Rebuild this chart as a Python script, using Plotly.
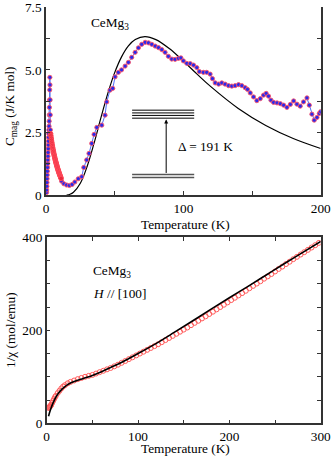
import plotly.graph_objects as go

# ---------------- top panel data: C_mag vs T ----------------
spike_T = [0.4,0.5,0.6,0.7,0.8,0.9,1.0,1.1,1.2,1.3,1.4,1.5,1.6,1.7,1.8,1.9,2.0,2.1,2.2,2.3,2.4,2.5,2.6,2.7,2.8,2.9,3.0,3.1,3.2]
spike_C = [0.1,0.2,0.35,0.5,0.65,0.8,0.95,1.1,1.25,1.4,1.55,1.7,1.85,2.0,2.15,2.3,2.45,2.6,2.75,2.95,3.2,3.5,3.8,4.2,4.7,4.4,3.8,3.2,2.6]

band_T = [3.4,3.6,3.8,4.0,4.2,4.4,4.6,4.8,5.0,5.2,5.4,5.6,5.8,6.0,6.2,6.4,6.6,6.8,7.0,7.2,7.4,7.6,7.8,8.0,
          8.2,8.4,8.6,8.8,9.0,9.2,9.4,9.6,9.8,10.0,10.2,10.4,10.6,10.8,11.0]
band_C = [2.45,2.36,2.27,2.19,2.11,2.04,1.97,1.91,1.85,1.79,1.74,1.68,1.63,1.58,1.53,1.48,1.44,1.39,1.35,1.31,1.27,1.23,1.19,1.15,
          1.11,1.07,1.04,1.0,0.97,0.94,0.9,0.87,0.84,0.81,0.78,0.75,0.72,0.69,0.66]

main_T = [11.4,13,15,17,19,21,23.5,26,27.5,29.6,31.3,33.3,35,37,40.6,43,44.2,46.6,48.6,50.3,52.7,55,57.6,60,62.4,64.9,67.3,
          69.7,72.2,74.6,77,79.5,81.9,84.3,86.7,89.1,91.6,94,96.4,98.2,100,102.5,105,107.4,109.8,111.7,114.6,117,119.5,
          121.2,123.2,125.7,128,130.4,132.9,135.3,137.7,140.2,142.6,145,146.7,148.7,151.1,153.5,156,158.4,160.3,162,163.8,
          165.7,168.2,170.6,173,175.4,177.9,180.3,182.7,185.1,187.5,190,191.7,193.6,195.3,197.3,199,200]
main_C = [0.55,0.45,0.4,0.38,0.42,0.52,0.65,0.73,1.1,1.4,1.66,2.06,2.42,2.7,2.79,3.19,3.72,4.19,4.26,4.72,4.9,5.0,5.15,5.3,5.5,5.7,5.88,
          6.02,6.1,6.08,6.02,5.95,5.89,5.81,5.7,5.54,5.43,5.42,5.46,5.48,5.36,5.26,5.25,5.19,5.09,4.93,4.9,4.9,4.83,
          4.65,4.48,4.43,4.48,4.43,4.37,4.35,4.37,4.41,4.37,4.29,4.22,4.08,3.92,3.77,3.85,3.99,4.06,3.95,3.79,
          3.7,3.68,3.65,3.59,3.5,3.62,3.76,3.63,3.55,3.72,3.88,3.59,3.23,2.99,3.1,3.26,3.33]

fit_T = [15,17.5,20,25,30,35,40,45,50,55,60,65,72,80,90,100,110,120,140,160,180,200]
fit_C = [0.0,0.03,0.11,0.47,1.15,2.07,3.09,4.06,4.89,5.52,5.96,6.21,6.33,6.21,5.84,5.35,4.83,4.33,3.46,2.78,2.26,1.86]

# ---------------- bottom panel data: 1/chi vs T ----------------
chi_T = [2.0,2.5,3,3.5,4,4.5,5,6,7,8,9,10,12,14,16,18,20,23,26,30,34,38,42,46,50,54,58,62,66,70,74,78,82,86,90,94,98,
         102,106,110,114,118,122,126,130,134,138,142,146,150,154,158,162,166,170,174,178,182,186,190,194,198,202,206,
         210,214,218,222,226,230,234,238,242,246,250,254,258,262,266,270,274,278,282,286,290,294,298]
chi_inv = [33,34,35,36,37,38.5,40,44,48,52,56,59,65,70,75,79,82,86,89,92,95,97.5,100,102,104,107,110,113,116,119,122.5,126,
           130,134,138,142,146,150,154,158,162,166,170,174.5,179,183.5,188,192.5,197,201.5,206,211,216,220.5,225.5,230,
           235,240,245,250,255,260,265,270,275,280,285,290.5,295.5,300.5,305.5,311,316,321,326.5,332,337,342.5,347.5,353,
           358,363,368,373,378,383,388]

cef_T = [2,3,5,7,10,13,16,20,25,30,40,50,60,70,80,90,100,120,140,160,180,200,220,240,260,280,300]
cef_inv = [15,22,34,44,56,65,72,79,85.5,90,96.5,103,111,120,129,139.5,150,172,196,220.5,245.5,270,294,318.5,343,367,391]

# axis tick labels
top_xticks = [0, 100, 200]
top_yticks = [0, 2.5, 5.0, 7.5]
top_ytext = ["0", "2.5", "5.0", "7.5"]
bot_xticks = [0, 100, 200, 300]
bot_yticks = [0, 200, 400]

# energy-level inset
ground_levels = [0.82, 0.70]
excited_levels = [3.39, 3.28, 3.18, 3.07]

FONT = "Liberation Serif, Times New Roman, serif"
FS = 13.3
W, H = 332, 465

fig = go.Figure()

fig.add_trace(go.Scatter(x=fit_T, y=fit_C, mode="lines", line=dict(color="black", width=1.2, shape="spline"),
                         xaxis="x", yaxis="y", showlegend=False, hoverinfo="skip"))
fig.add_trace(go.Scatter(x=spike_T + main_T, y=spike_C + main_C, mode="lines+markers",
                         line=dict(color="#4f6ef7", width=1),
                         marker=dict(size=4.2, color="#2b2bea", line=dict(color="#ff5566", width=0.9)),
                         xaxis="x", yaxis="y", showlegend=False, hoverinfo="skip"))
fig.add_trace(go.Scatter(x=band_T, y=band_C, mode="markers",
                         marker=dict(size=4.5, color="#e8283c", line=dict(color="#ff4a5a", width=1)),
                         xaxis="x", yaxis="y", showlegend=False, hoverinfo="skip"))

fig.add_trace(go.Scatter(x=chi_T, y=chi_inv, mode="markers",
                         marker=dict(size=5, symbol="circle-open", color="#ff5a5a", line=dict(width=1)),
                         xaxis="x2", yaxis="y2", showlegend=False, hoverinfo="skip"))
fig.add_trace(go.Scatter(x=cef_T, y=cef_inv, mode="lines", line=dict(color="black", width=1.6, shape="spline"),
                         xaxis="x2", yaxis="y2", showlegend=False, hoverinfo="skip"))

axcol = "#333"
common = dict(showgrid=False, zeroline=False, showline=True, linecolor=axcol, linewidth=1.5,
              ticks="inside", ticklen=4, tickwidth=1, tickcolor=axcol, tickangle=0,
              tickfont=dict(family=FONT, size=FS, color="black"), automargin=False)

xd_top = [46 / W, 320.7 / W]
xd_bot = [46.7 / W, 320.7 / W]

fig.update_layout(
    width=W, height=H, margin=dict(l=0, r=0, t=0, b=0),
    paper_bgcolor="white", plot_bgcolor="white",
    font=dict(family=FONT, size=FS, color="black"),
    xaxis=dict(domain=xd_top, range=[0, 200], tickmode="array", tickvals=top_xticks,
               ticktext=[str(v) for v in top_xticks],
               minor=dict(dtick=50, ticks="inside", ticklen=4, tickcolor=axcol, showgrid=False),
               anchor="y", **common),
    yaxis=dict(domain=[1 - 195 / H, 1 - 7.3 / H], range=[0, 7.5], tickmode="array",
               tickvals=top_yticks, ticktext=top_ytext,
               minor=dict(dtick=1.25, ticks="inside", ticklen=4, tickcolor=axcol, showgrid=False),
               mirror="ticks", anchor="x", **common),
    xaxis2=dict(domain=xd_bot, range=[0, 300], tickmode="array", tickvals=bot_xticks,
                ticktext=[str(v) for v in bot_xticks],
                minor=dict(dtick=50, ticks="inside", ticklen=4, tickcolor=axcol, showgrid=False),
                mirror="ticks", anchor="y2", **common),
    yaxis2=dict(domain=[1 - 423.3 / H, 1 - 237.3 / H], range=[0, 400], tickmode="array",
                tickvals=bot_yticks, ticktext=[str(v) for v in bot_yticks],
                minor=dict(dtick=50, ticks="inside", ticklen=4, tickcolor=axcol, showgrid=False),
                mirror="ticks", anchor="x2", **common),
)

shapes = []
for lv in excited_levels:
    shapes.append(dict(type="line", xref="x", yref="y", x0=62.7, x1=107.9, y0=lv, y1=lv,
                       line=dict(color="black", width=1)))
for lv in ground_levels:
    shapes.append(dict(type="line", xref="x", yref="y", x0=62.7, x1=107.9, y0=lv, y1=lv,
                       line=dict(color="#555", width=1.5)))
fig.update_layout(shapes=shapes)

ann = [
    dict(x=87.5, y=excited_levels[-1] - 0.05, ax=87.5, ay=ground_levels[0], xref="x", yref="y",
         axref="x", ayref="y", showarrow=True, arrowhead=2, arrowsize=0.8, arrowwidth=1, arrowcolor="black", text=""),
    dict(x=94.8, y=1.93, xref="x", yref="y", text="Δ = 191 K", showarrow=False, xanchor="left",
         yanchor="middle", font=dict(family=FONT, size=FS)),
    dict(x=46.6, y=6.86, xref="x", yref="y", text="CeMg<sub>3</sub>", showarrow=False,
         xanchor="center", yanchor="middle", font=dict(family=FONT, size=FS)),
    dict(x=48.5, y=326, xref="x2", yref="y2", text="CeMg<sub>3</sub>", showarrow=False,
         xanchor="left", yanchor="middle", font=dict(family=FONT, size=FS)),
    dict(x=48.5, y=280, xref="x2", yref="y2", text="<i>H</i> // [100]", showarrow=False,
         xanchor="left", yanchor="middle", font=dict(family=FONT, size=FS)),
    dict(x=185 / W, y=1 - 224.5 / H, xref="paper", yref="paper", text="Temperature (K)", showarrow=False,
         xanchor="center", yanchor="middle", font=dict(family=FONT, size=FS)),
    dict(x=185 / W, y=1 - 448.5 / H, xref="paper", yref="paper", text="Temperature (K)", showarrow=False,
         xanchor="center", yanchor="middle", font=dict(family=FONT, size=FS)),
    dict(x=10 / W, y=1 - 106 / H, xref="paper", yref="paper", text="C<sub>mag</sub> (J/K mol)", showarrow=False,
         textangle=-90, xanchor="center", yanchor="middle", font=dict(family=FONT, size=FS)),
    dict(x=10 / W, y=1 - 330 / H, xref="paper", yref="paper", text="1/χ (mol/emu)", showarrow=False,
         textangle=-90, xanchor="center", yanchor="middle", font=dict(family=FONT, size=FS)),
]
fig.update_layout(annotations=ann)

fig.write_html("out.html", config={"displayModeBar": False},
               post_script="document.body.style.margin='0';document.body.style.padding='0';")
